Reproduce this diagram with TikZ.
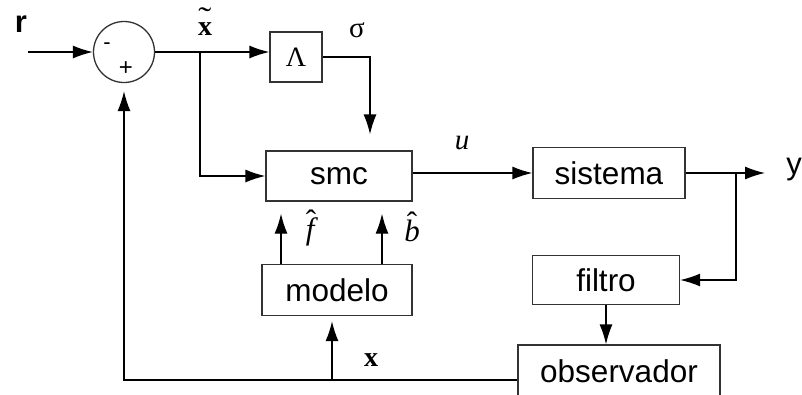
\documentclass[tikz,border=0pt]{standalone}
\usepackage{fontspec}
\setmainfont{Liberation Sans}
\newfontfamily\serif{Liberation Serif}
\usetikzlibrary{arrows.meta,positioning,calc}

\newcommand{\hatted}[1]{\ooalign{\hfil\raisebox{8pt}{\upshape ˆ}\hfil\cr #1\cr}}
\newcommand{\tilded}[1]{\ooalign{\hfil\raisebox{7pt}{\mdseries\scalebox{1.4}[1.1]{˜}}\hfil\cr #1\cr}}

\tikzset{
  blk/.style={draw=black!80, line width=1.3pt, rectangle, inner sep=0pt,
              font=\fontsize{31.5}{36}\selectfont},
  arr/.style={-{Latex[length=20pt,width=13pt]}},
  lbl/.style={font=\serif\fontsize{27}{30}\selectfont, inner sep=0pt},
}

\begin{document}
\begin{tikzpicture}[x=1pt,y=-1pt,line width=1.3pt]
    \useasboundingbox (0,0) rectangle (802,394);
    % blocks
    \node[draw=black!80, circle, minimum size=61pt, inner sep=0pt] (sum) at (124,52) {};
    \node[font=\fontsize{22}{24}\selectfont] at (107,46) {-};
    \node[font=\fontsize{24}{26}\selectfont] at (126,69) {+};
    \node[blk, minimum width=52pt, minimum height=50pt, font=\serif\fontsize{28}{30}\selectfont] (lam) at (296,57) {Λ};
    \node[blk, minimum width=146pt, minimum height=50pt] (smc) at (339,176) {smc};
    \node[blk, minimum width=152pt, minimum height=51pt] (sis) at (609,173) {sistema};
    \node[blk, minimum width=150pt, minimum height=51pt] (mod) at (337,290) {modelo};
    \node[blk, minimum width=147pt, minimum height=49pt] (fil) at (606,280) {filtro};
    \node[blk, minimum width=202pt, minimum height=52pt] (obs) at (619,371) {observador};
    % free ends
    \coordinate (rin) at (28,52);
    \coordinate (br1) at (200,52);
    \coordinate (br2) at (736,173);
    \coordinate (yout) at (765,173);
    \coordinate (fb) at (124,380);
    \coordinate (fbm) at (332,380);
    % labels
    \node[font=\bfseries\fontsize{31}{34}\selectfont] (rl) at (21,24) {r};
    \node[lbl, font=\serif\bfseries\fontsize{28}{30}\selectfont] (xt) at (205,22) {\tilded{x}};
    \node[lbl, font=\serif\fontsize{29}{30}\selectfont] (sg) at (357,30) {σ};
    \node[lbl, font=\serif\itshape\fontsize{29}{30}\selectfont] (ul) at (462,143) {u};
    \node[lbl, font=\serif\itshape\fontsize{31}{32}\selectfont] (fh) at (311,228) {\hatted{f}};
    \node[lbl, font=\serif\itshape\fontsize{31}{32}\selectfont] (bh) at (412,227) {\hatted{b}};
    \node[font=\fontsize{31}{34}\selectfont] (yl) at (794,170) {y};
    \node[lbl, font=\serif\bfseries\fontsize{28}{30}\selectfont] (xl) at (371,360) {x};
    % connectors
    \draw[arr] (rin) -- (sum.west);
    \draw (sum.east) -- (br1);
    \draw[arr] (br1) -- (lam.west |- br1);
    \draw[arr] (br1) |- (smc.west);
    \draw[arr, shorten >=16pt] (lam.east) -| ([xshift=31pt]smc.north);
    \draw[arr] (smc.east |- sis.west) -- (sis.west);
    \draw[arr] (sis.east) -- (yout);
    \draw[arr] (br2) |- (fil.east);
    \draw[arr] (fil.south) -- (fil.south |- obs.north);
    \draw[arr, shorten >=8pt] (obs.west |- fb) -| (sum.south);
    \draw[arr, shorten >=5pt] (fbm) -- (fbm |- mod.south);
    \draw[arr, shorten >=12pt] ([xshift=-56pt]mod.north) -- ([xshift=-56pt]mod.north |- smc.south);
    \draw[arr, shorten >=12pt] ([xshift=45pt]mod.north) -- ([xshift=45pt]mod.north |- smc.south);
\end{tikzpicture}
\end{document}
